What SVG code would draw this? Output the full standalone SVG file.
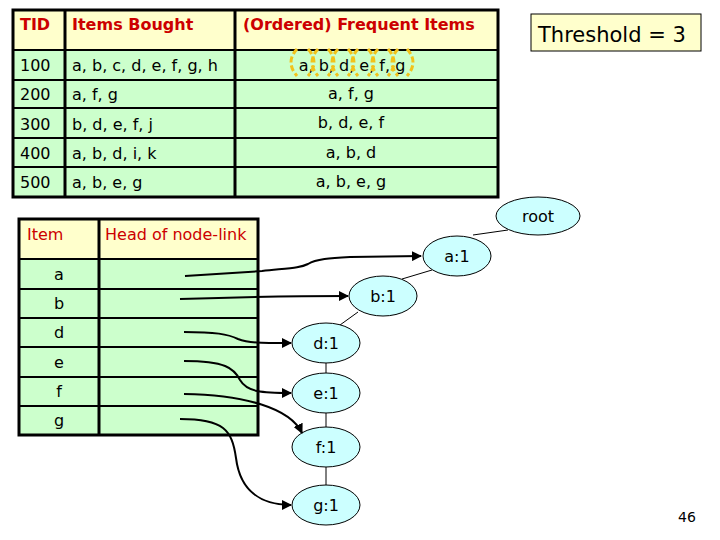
<svg xmlns="http://www.w3.org/2000/svg" width="720" height="540" viewBox="0 0 720 540">
<style>
.t{font-family:"DejaVu Sans",Verdana,sans-serif;font-size:16px;fill:#000}
.h{font-family:"DejaVu Sans",Verdana,sans-serif;font-size:16px;fill:#CC0000}
.hb{font-weight:bold}
.c{text-anchor:middle}
.hdr{fill:#FFFFCC}
.row{fill:#CCFFCC}
.grid{stroke:#000;stroke-width:2;fill:none}
.outer{stroke:#000;stroke-width:3;fill:none}
.node ellipse{fill:#CCFFFF;stroke:#000;stroke-width:1}
.node text{font-family:"DejaVu Sans",Verdana,sans-serif;font-size:16px;text-anchor:middle;fill:#000}
.edge{stroke:#000;stroke-width:1;fill:none}
.link{stroke:#000;stroke-width:2;fill:none;marker-end:url(#ah)}
.mark{stroke:#F2C21A;stroke-width:3;fill:none;stroke-dasharray:6 3}
</style>
<defs>
<marker id="ah" viewBox="0 0 10 10" refX="9" refY="5" markerWidth="5" markerHeight="5" orient="auto" markerUnits="strokeWidth">
<path d="M0,0 L10,5 L0,10 z" fill="#000"/>
</marker>
</defs>
<rect width="720" height="540" fill="#fff"/>

<g id="transactions">
<rect class="hdr" x="13" y="10" width="485" height="40"/>
<rect class="row" x="13" y="50" width="485" height="147"/>
<line class="grid" x1="13" y1="50" x2="498" y2="50"/>
<line class="grid" x1="13" y1="80" x2="498" y2="80"/>
<line class="grid" x1="13" y1="108" x2="498" y2="108"/>
<line class="grid" x1="13" y1="138" x2="498" y2="138"/>
<line class="grid" x1="13" y1="167" x2="498" y2="167"/>
<line class="outer" x1="65" y1="10" x2="65" y2="197"/>
<line class="outer" x1="235" y1="10" x2="235" y2="197"/>
<rect class="outer" x="13" y="10" width="485" height="187"/>
<text class="h hb" x="20" y="30">TID</text>
<text class="h hb" x="72" y="30">Items Bought</text>
<text class="h hb" x="243" y="30">(Ordered) Frequent Items</text>
<text class="t" x="20" y="71">100</text>
<text class="t" x="72" y="71">a, b, c, d, e, f, g, h</text>
<text class="t c" x="352" y="71">a, b, d, e, f, g</text>
<text class="t" x="20" y="100">200</text>
<text class="t" x="72" y="100">a, f, g</text>
<text class="t c" x="351" y="99">a, f, g</text>
<text class="t" x="20" y="130">300</text>
<text class="t" x="72" y="130">b, d, e, f, j</text>
<text class="t c" x="351" y="128">b, d, e, f</text>
<text class="t" x="20" y="159">400</text>
<text class="t" x="72" y="159">a, b, d, i, k</text>
<text class="t c" x="351" y="158">a, b, d</text>
<text class="t" x="20" y="188">500</text>
<text class="t" x="72" y="188">a, b, e, g</text>
<text class="t c" x="351" y="187">a, b, e, g</text>
</g>

<g id="order-marks">
<path class="mark" d="M297,49 Q285,62 297,76"/>
<path class="mark" d="M308,49 Q320,62 308,76 M318,49 Q306,62 318,76"/>
<path class="mark" d="M328,49 Q340,62 328,76 M338,49 Q326,62 338,76"/>
<path class="mark" d="M348,49 Q360,62 348,76 M358,49 Q346,62 358,76"/>
<path class="mark" d="M368,49 Q380,62 368,76 M378,49 Q366,62 378,76"/>
<path class="mark" d="M388,49 Q400,62 388,76 M398,49 Q386,62 398,76"/>
<path class="mark" d="M407,49 Q419,62 407,76"/>
</g>

<g id="threshold">
<rect x="531" y="14" width="170" height="37" fill="#FFFFCC" stroke="#000" stroke-width="1"/>
<text x="538" y="42" font-family="DejaVu Sans,Verdana,sans-serif" font-size="21">Threshold = 3</text>
</g>

<g id="header-table">
<rect class="hdr" x="19" y="219" width="239" height="40"/>
<rect class="row" x="19" y="259" width="239" height="176"/>
<line class="grid" x1="19" y1="259" x2="258" y2="259"/>
<line class="grid" x1="19" y1="289" x2="258" y2="289"/>
<line class="grid" x1="19" y1="318" x2="258" y2="318"/>
<line class="grid" x1="19" y1="347" x2="258" y2="347"/>
<line class="grid" x1="19" y1="377" x2="258" y2="377"/>
<line class="grid" x1="19" y1="406" x2="258" y2="406"/>
<line class="outer" x1="99" y1="219" x2="99" y2="435"/>
<rect class="outer" x="19" y="219" width="239" height="216"/>
<text class="h" x="27" y="240">Item</text>
<text class="h" x="105" y="240">Head of node-link</text>
<text class="t c" x="59" y="280">a</text>
<text class="t c" x="59" y="309">b</text>
<text class="t c" x="59" y="338">d</text>
<text class="t c" x="59" y="368">e</text>
<text class="t c" x="59" y="397">f</text>
<text class="t c" x="59" y="426">g</text>
</g>

<g id="tree-edges">
<line class="edge" x1="473" y1="235" x2="508" y2="230"/>
<line class="edge" x1="402" y1="279" x2="432" y2="270"/>
<line class="edge" x1="340" y1="325" x2="358" y2="312"/>
<line class="edge" x1="326" y1="363" x2="326" y2="373"/>
<line class="edge" x1="326" y1="413" x2="326" y2="427"/>
<line class="edge" x1="326" y1="467" x2="326" y2="485"/>
</g>

<g id="node-root" class="node"><ellipse cx="538" cy="216" rx="42" ry="19"/><text x="538" y="222">root</text></g>
<g id="node-a" class="node"><ellipse cx="457" cy="256" rx="34" ry="20"/><text x="457" y="262">a:1</text></g>
<g id="node-b" class="node"><ellipse cx="383" cy="296" rx="34" ry="20"/><text x="383" y="302">b:1</text></g>
<g id="node-d" class="node"><ellipse cx="326" cy="343" rx="34" ry="20"/><text x="326" y="349">d:1</text></g>
<g id="node-e" class="node"><ellipse cx="326" cy="393" rx="34" ry="20"/><text x="326" y="399">e:1</text></g>
<g id="node-f" class="node"><ellipse cx="326" cy="447" rx="34" ry="20"/><text x="326" y="453">f:1</text></g>
<g id="node-g" class="node"><ellipse cx="326" cy="505" rx="34" ry="20"/><text x="326" y="511">g:1</text></g>

<g id="connectors">
<path class="link" d="M185,276 L262,271 C290,268 300,268 308,264 C316,259 330,258 350,257 L421,256"/>
<path class="link" d="M180,299 C240,297 300,296 348,296"/>
<path class="link" d="M184,332 C215,332 228,334 238,339 C248,343 260,343 291,343"/>
<path class="link" d="M184,361 C225,361 234,368 240,380 C247,392 262,393 291,393"/>
<path class="link" d="M184,394 C245,395 290,408 302,433"/>
<path class="link" d="M180,419 C224,419 232,430 236,458 C240,490 260,505 291,505"/>
</g>

<text x="678" y="522" font-family="DejaVu Sans,Verdana,sans-serif" font-size="14">46</text>
</svg>
